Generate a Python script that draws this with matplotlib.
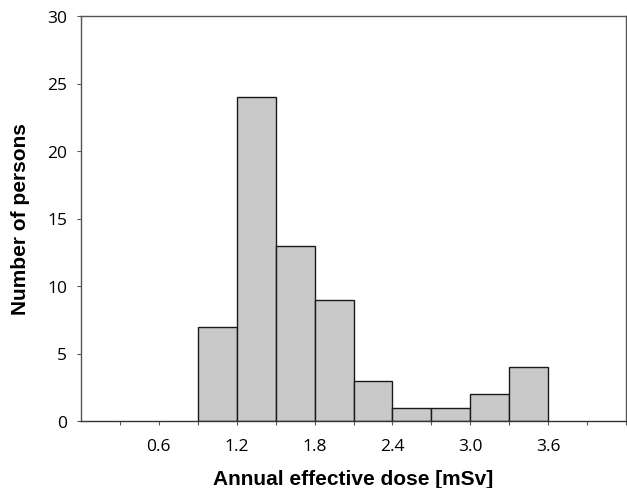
import matplotlib
matplotlib.use("Agg")
import matplotlib.pyplot as plt
import numpy as np

bin_edges = [0.0, 0.3, 0.6, 0.9, 1.2, 1.5, 1.8, 2.1, 2.4, 2.7, 3.0, 3.3, 3.6, 3.9, 4.2]
counts = [0, 0, 0, 7, 24, 13, 9, 3, 1, 1, 2, 4, 0, 0]
xtick_labels = ["0.6", "1.2", "1.8", "2.4", "3.0", "3.6"]
xtick_values = [0.6, 1.2, 1.8, 2.4, 3.0, 3.6]
yticks = [0, 5, 10, 15, 20, 25, 30]

fig = plt.figure(figsize=(6.27, 4.89), dpi=100)
ax = fig.add_axes([81/627, 67/489, 545/627, 405/489])

lefts = np.array(bin_edges[:-1])
widths = np.diff(bin_edges)
cnt = np.array(counts)
nz = cnt > 0
ax.bar(lefts[nz], cnt[nz], width=widths[nz], align="edge",
       color="#c9c9c9", edgecolor="#1a1a1a", linewidth=1.0)

ax.set_xlim(bin_edges[0], bin_edges[-1])
ax.set_ylim(0, 30)

ax.set_xticks(xtick_values)
ax.set_xticklabels(xtick_labels, fontfamily="Open Sans", fontsize=12.5)
ax.set_xticks(bin_edges[1:], minor=True)
ax.tick_params(axis="x", which="both", length=3, width=0.8, color="#555555",
               direction="out", pad=9)

ax.set_yticks(yticks)
ax.set_yticklabels([str(v) for v in yticks], fontfamily="Open Sans", fontsize=12.5)
ax.tick_params(axis="y", length=3, width=0.8, color="#555555", direction="out", pad=7)

for sp in ax.spines.values():
    sp.set_color("#555555")
    sp.set_linewidth(1.0)
ax.spines["bottom"].set_color("#333333")

ax.set_xlabel("Annual effective dose [mSv]", fontfamily="Liberation Sans",
              fontweight="bold", fontsize=15, labelpad=11)
ax.set_ylabel("Number of persons", fontfamily="Liberation Sans",
              fontweight="bold", fontsize=15, labelpad=12)

fig.savefig("out.png", dpi=100)
